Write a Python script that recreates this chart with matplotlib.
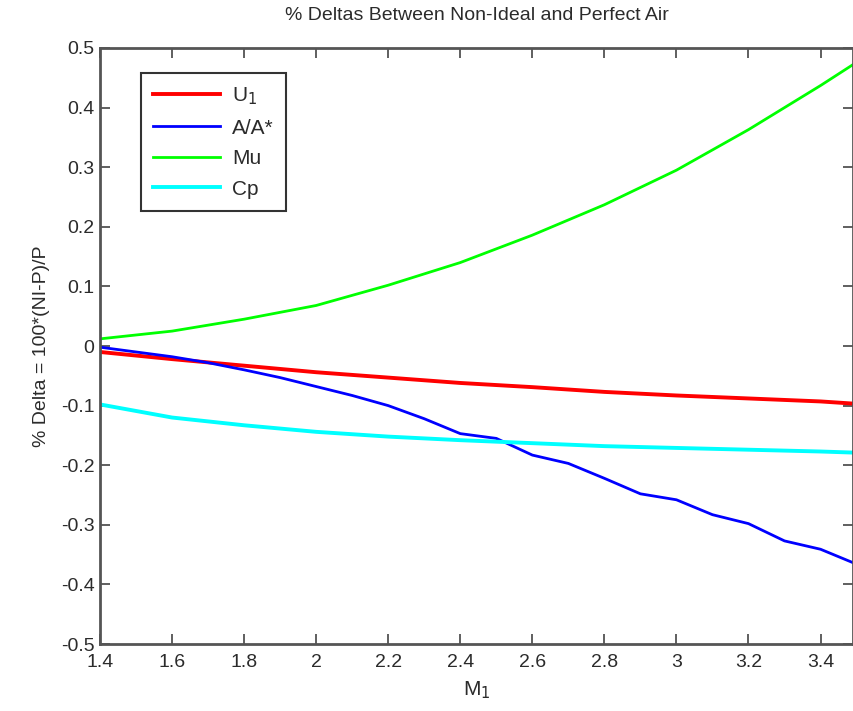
import numpy as np
import matplotlib
matplotlib.use("Agg")
import matplotlib.pyplot as plt

plt.rcParams['font.family'] = ['Liberation Sans', 'DejaVu Sans']

# -----------------------------------------
# DATA
# -----------------------------------------
m1_smooth = [1.4, 1.6, 1.8, 2.0, 2.2, 2.4, 2.6, 2.8, 3.0, 3.2, 3.4, 3.5]
u1_delta = [-0.010, -0.022, -0.033, -0.044, -0.053, -0.062, -0.069, -0.077, -0.083, -0.088, -0.093, -0.097]
mu_delta = [0.012, 0.025, 0.045, 0.068, 0.102, 0.140, 0.186, 0.237, 0.295, 0.363, 0.437, 0.476]
cp_delta = [-0.098, -0.120, -0.133, -0.144, -0.152, -0.158, -0.163, -0.168, -0.171, -0.174, -0.177, -0.179]

m1_area = [1.4, 1.5, 1.6, 1.7, 1.8, 1.9, 2.0, 2.1, 2.2, 2.3, 2.4, 2.5, 2.6,
           2.7, 2.8, 2.9, 3.0, 3.1, 3.2, 3.3, 3.4, 3.5]
area_delta = [-0.002, -0.010, -0.018, -0.028, -0.040, -0.053, -0.068, -0.083, -0.100,
              -0.122, -0.147, -0.155, -0.183, -0.197, -0.222, -0.248, -0.258, -0.283,
              -0.298, -0.327, -0.341, -0.366]

x_ticks = [1.4, 1.6, 1.8, 2.0, 2.2, 2.4, 2.6, 2.8, 3.0, 3.2, 3.4]
x_tick_labels = ["1.4", "1.6", "1.8", "2", "2.2", "2.4", "2.6", "2.8", "3", "3.2", "3.4"]
y_ticks = [-0.5, -0.4, -0.3, -0.2, -0.1, 0, 0.1, 0.2, 0.3, 0.4, 0.5]
y_tick_labels = ["-0.5", "-0.4", "-0.3", "-0.2", "-0.1", "0", "0.1", "0.2", "0.3", "0.4", "0.5"]

# -----------------------------------------
# PLOT
# -----------------------------------------
fig = plt.figure(figsize=(8.54, 7.11), dpi=100)
ax = fig.add_axes([0.1171, 0.0942, 0.8817, 0.8383])

ax.plot(m1_smooth, u1_delta, color=(1, 0, 0), lw=2.8, label="U$_1$")
ax.plot(m1_area, area_delta, color=(0, 0, 1), lw=2.0, label="A/A*")
ax.plot(m1_smooth, mu_delta, color=(0, 1, 0), lw=2.0, label="Mu")
ax.plot(m1_smooth, cp_delta, color=(0, 1, 1), lw=2.8, label="Cp")

ax.set_xlim(1.4, 3.49)
ax.set_ylim(-0.5, 0.5)
ax.set_xticks(x_ticks)
ax.set_xticklabels(x_tick_labels)
ax.set_yticks(y_ticks)
ax.set_yticklabels(y_tick_labels)

text_col = "#2b2b2b"
ax.tick_params(direction="in", length=7, width=1.2, color="#444444",
               top=True, right=True, labelsize=14, labelcolor=text_col)
ax.tick_params(axis="x", pad=7)
ax.tick_params(axis="y", pad=4)
for s in ax.spines.values():
    s.set_color("#555555")
    s.set_linewidth(2)

ax.set_title("% Deltas Between Non-Ideal and Perfect Air", fontsize=14, color=text_col, pad=20)
ax.set_xlabel("M$_1$", fontsize=15, color=text_col, labelpad=6)
ax.set_ylabel("% Delta = 100*(NI-P)/P", fontsize=14, color=text_col, labelpad=8)

leg = ax.legend(loc="upper left", bbox_to_anchor=(0.054, 0.958), fontsize=15,
                fancybox=False, edgecolor="#333333", framealpha=1,
                handlelength=3.2, handletextpad=0.6, labelspacing=0.55,
                borderpad=0.6, borderaxespad=0)
leg.get_frame().set_linewidth(1.5)
for t in leg.get_texts():
    t.set_color(text_col)

fig.savefig("out.png", dpi=100)
